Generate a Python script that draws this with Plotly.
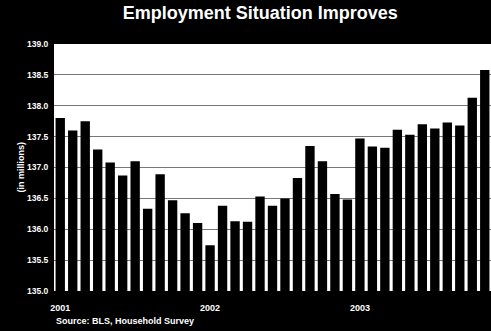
import plotly.graph_objects as go

months = [f"{m} {y}" for y in (2001, 2002, 2003) for m in
          ["Jan", "Feb", "Mar", "Apr", "May", "Jun", "Jul", "Aug", "Sep", "Oct", "Nov", "Dec"]][:35]
employment = [137.80, 137.60, 137.75, 137.29, 137.08, 136.87, 137.10, 136.33, 136.89, 136.47,
              136.26, 136.10, 135.74, 136.38, 136.13, 136.12, 136.53, 136.38, 136.50, 136.83,
              137.35, 137.10, 136.57, 136.48, 137.47, 137.34, 137.32, 137.61, 137.53, 137.70,
              137.63, 137.73, 137.68, 138.13, 138.58]
year_ticks = ["Jan 2001", "Jan 2002", "Jan 2003"]
year_labels = ["2001", "2002", "2003"]
y_ticks = [135.0, 135.5, 136.0, 136.5, 137.0, 137.5, 138.0, 138.5, 139.0]

FONT = "Arial, Liberation Sans, Helvetica, sans-serif"

fig = go.Figure()
fig.add_trace(go.Bar(x=months, y=employment, marker=dict(color="black", line=dict(width=0))))

fig.update_layout(
    width=491, height=331,
    margin=dict(l=54, r=0, t=44, b=40),
    paper_bgcolor="black", plot_bgcolor="white",
    bargap=0.25, showlegend=False,
    font=dict(family=FONT, color="white"),
    title=dict(text="<b>Employment Situation Improves</b>", x=0.53, xanchor="center",
               y=1 - 13 / 331, yanchor="middle", yref="container",
               font=dict(size=18, color="white", family=FONT)),
)
fig.update_xaxes(
    type="category", tickmode="array", tickvals=year_ticks,
    ticktext=[f"<b>{t}</b>" for t in year_labels],
    tickfont=dict(size=9, color="white", family=FONT),
    ticks="outside", ticklen=8, tickcolor="black", showgrid=False, showline=False,
)
fig.update_yaxes(
    range=[135, 139], tickmode="array", tickvals=y_ticks,
    ticktext=[f"<b>{v:.1f}</b>" for v in y_ticks],
    tickfont=dict(size=8.5, color="white", family=FONT),
    ticks="outside", ticklen=3, tickcolor="black",
    showgrid=True, gridcolor="#777777", gridwidth=1, zeroline=False, showline=False,
)
fig.add_annotation(text="<b>(in millions)</b>", xref="paper", yref="paper", x=0, y=0.5,
                   xshift=-34, textangle=-90, showarrow=False, xanchor="center", yanchor="middle",
                   font=dict(size=9, color="white", family=FONT))
fig.add_annotation(text="<b>Source: BLS, Household Survey</b>", xref="paper", yref="paper",
                   x=0, y=0, yshift=-30, showarrow=False, xanchor="left", yanchor="middle",
                   font=dict(size=9, color="white", family=FONT))

fig.write_html("out.html")
